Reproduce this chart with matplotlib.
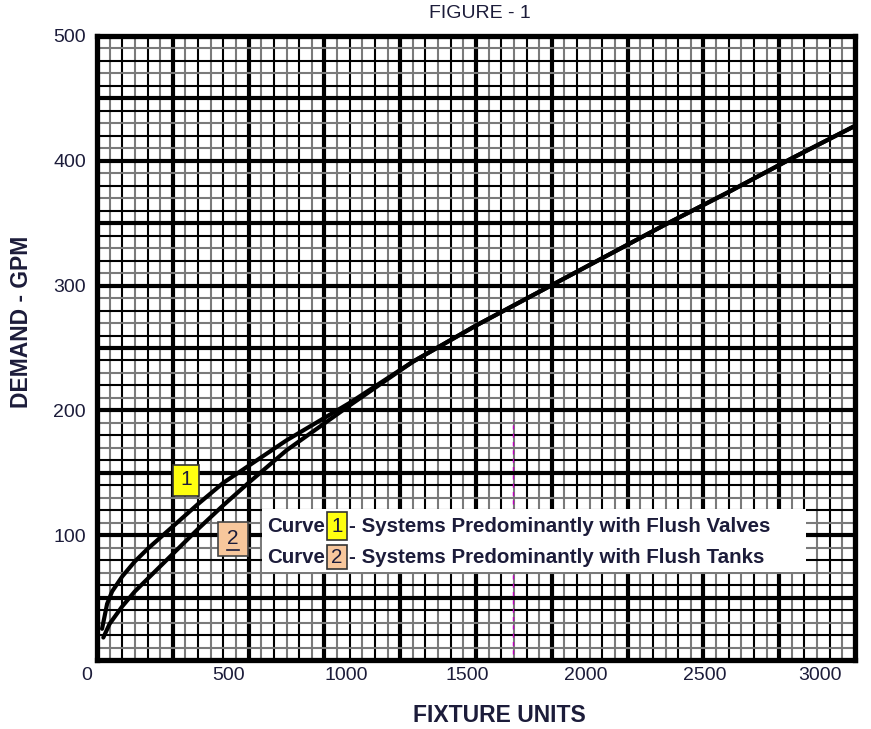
import numpy as np
import matplotlib
matplotlib.use("Agg")
import matplotlib.pyplot as plt
from matplotlib.patches import Rectangle

plt.rcParams['font.family'] = ['Liberation Sans', 'DejaVu Sans']

# Curve 1 - flush valves
fu_valves = [20, 40, 60, 80, 100, 150, 200, 250, 300, 400, 500, 750, 1000,
             1250, 1500, 1750, 2000, 2250, 2500, 2750, 3000]
gpm_valves = [25, 45, 55, 61, 67, 79, 89, 98, 107, 125, 142, 176, 206,
              239, 268, 295, 322, 349, 375, 402, 428]

# Curve 2 - flush tanks
fu_tanks = [25, 50, 100, 150, 200, 250, 300, 400, 500, 600, 750, 1000,
            1250, 1500, 1750, 2000, 2250, 2500, 2750, 3000]
gpm_tanks = [18, 29, 43, 55, 65, 75, 85, 105, 124, 142, 168, 204,
             239, 268, 295, 322, 349, 375, 402, 428]

x_ticks = [0, 500, 1000, 1500, 2000, 2500, 3000]
y_ticks = [100, 200, 300, 400, 500]

legend_rows = ["- Systems Predominantly with Flush Valves",
               "- Systems Predominantly with Flush Tanks"]

txt_col = "#1c1c3a"
yellow = "#FFFF10"
peach = "#F7C79C"

fig = plt.figure(figsize=(8.71, 7.29), dpi=100)
ax = fig.add_axes([97 / 871, 1 - 660 / 729, 758 / 871, 624 / 729])
ax.set_xlim(0, 3000)
ax.set_ylim(0, 500)

# graph paper grid
for i, gx in enumerate(np.arange(50, 3000, 50)):
    if i % 6 == 5:
        ax.axvline(gx, color="black", lw=3.0, zorder=1)
    elif i % 2 == 0:
        ax.axvline(gx, color="#7a7a7a", lw=1.5, zorder=1)
    else:
        ax.axvline(gx, color="black", lw=1.5, zorder=1)
for j, gy in enumerate(np.arange(10, 500, 10)):
    if j % 5 == 4:
        ax.axhline(gy, color="black", lw=3.0, zorder=1)
    elif j % 2 == 0:
        ax.axhline(gy, color="#7a7a7a", lw=1.5, zorder=1)
    else:
        ax.axhline(gy, color="black", lw=1.5, zorder=1)

# stray magenta mark from the scan
ax.plot([0.5488, 0.5488], [0.01, 0.385], transform=ax.transAxes,
        color="#c000c0", lw=1.0, ls=(0, (3, 3)), zorder=2)

ax.plot(fu_valves, gpm_valves, color="black", lw=3.0, zorder=4,
        solid_capstyle="round")
ax.plot(fu_tanks, gpm_tanks, color="black", lw=3.0, zorder=4,
        solid_capstyle="round")

for s in ax.spines.values():
    s.set_linewidth(3.8)
    s.set_zorder(6)

ax.set_xticks(x_ticks)
ax.set_xticklabels([])
ax.set_yticks(y_ticks)
ax.tick_params(length=0, labelsize=14, colors=txt_col)
ax.tick_params(axis="y", pad=8)

# x labels sit a little off their lines, as on the printed sheet
x_shift = [-10, 5, -3, -9, -17, -24, -35]
for v, dx in zip(x_ticks, x_shift):
    ax.annotate(str(v), xy=(v, 0), xycoords=("data", "axes fraction"),
                xytext=(dx, -16), textcoords="offset pixels", fontsize=14,
                color=txt_col, ha="center", va="center")

# legend panel
ax.add_patch(Rectangle((0.2177, 0.141), 0.7177, 0.101, transform=ax.transAxes,
                       facecolor="white", edgecolor="none", zorder=5))
row_y = [0.2147, 0.165]
box_y = [(0.1923, 0.0449), (0.1458, 0.0385)]
box_col = [yellow, peach]
for k in range(2):
    ax.text(0.2243, row_y[k], "Curve", transform=ax.transAxes, fontsize=14.8,
            fontweight="bold", color=txt_col, va="center", ha="left", zorder=7)
    ax.add_patch(Rectangle((0.3034, box_y[k][0]), 0.0262, box_y[k][1],
                           transform=ax.transAxes, facecolor=box_col[k],
                           edgecolor="#333333", lw=1.2, zorder=7))
    ax.text(0.3165, row_y[k], str(k + 1), transform=ax.transAxes, fontsize=14.8,
            color=txt_col, va="center", ha="center", zorder=8)
    ax.text(0.3325, row_y[k], legend_rows[k], transform=ax.transAxes,
            fontsize=14.8, fontweight="bold", color=txt_col, va="center",
            ha="left", zorder=7)

# curve markers
ax.add_patch(Rectangle((0.1003, 0.2628), 0.0343, 0.0497, transform=ax.transAxes,
                       facecolor=yellow, edgecolor="#333333", lw=1.2, zorder=7))
ax.text(0.1175, 0.2885, "1", transform=ax.transAxes, fontsize=15,
        color=txt_col, va="center", ha="center", zorder=8)
ax.add_patch(Rectangle((0.1596, 0.1667), 0.0396, 0.0545, transform=ax.transAxes,
                       facecolor=peach, edgecolor="#444444", lw=1.2, zorder=7))
ax.text(0.1794, 0.1955, "2", transform=ax.transAxes, fontsize=15,
        color=txt_col, va="center", ha="center", zorder=8)
ax.plot([0.172, 0.187], [0.1755, 0.1755], transform=ax.transAxes,
        color=txt_col, lw=1.2, zorder=8)

fig.text(480 / 871, 1 - 13 / 729, "FIGURE - 1", fontsize=14, color=txt_col,
         ha="center", va="center")
fig.text(499 / 871, 1 - 715 / 729, "FIXTURE UNITS", fontsize=16.5,
         fontweight="bold", color=txt_col, ha="center", va="center")
fig.text(22 / 871, 1 - 322 / 729, "DEMAND - GPM", fontsize=16.5,
         fontweight="bold", color=txt_col, ha="center", va="center",
         rotation=90)

fig.savefig("out.png", dpi=100, facecolor="white")
